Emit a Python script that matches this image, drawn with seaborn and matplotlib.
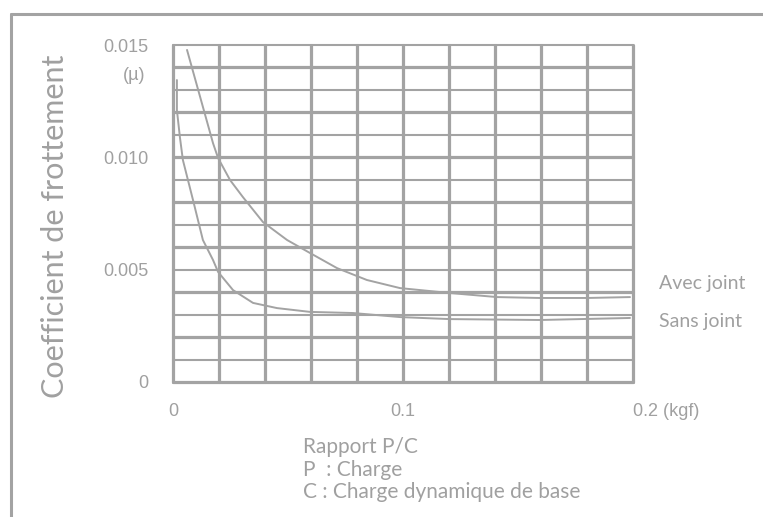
import numpy as np
import pandas as pd
import matplotlib
matplotlib.use("Agg")
import matplotlib.pyplot as plt
from matplotlib.lines import Line2D
import seaborn as sns

# ---- data ----
avec_x = [0.0061, 0.0174, 0.0196, 0.0248, 0.0304, 0.0391, 0.0496, 0.0596, 0.0713,
          0.0843, 0.0987, 0.1204, 0.1409, 0.1596, 0.1800, 0.1987]
avec_y = [0.01478, 0.01063, 0.00997, 0.00899, 0.00823, 0.00712, 0.00632, 0.00574, 0.00507,
          0.00454, 0.00418, 0.00396, 0.00378, 0.00374, 0.00374, 0.00378]
sans_x = [0.0017, 0.0017, 0.0030, 0.0043, 0.0087, 0.0130, 0.0174, 0.0196, 0.0261,
          0.0348, 0.0452, 0.0596, 0.0783, 0.0987, 0.1204, 0.1596, 0.1987]
sans_y = [0.01344, 0.01210, 0.01090, 0.00988, 0.00810, 0.00632, 0.00543, 0.00490, 0.00409,
          0.00352, 0.00329, 0.00312, 0.00307, 0.00289, 0.00280, 0.00276, 0.00285]
x_ticks = [0.0, 0.1, 0.2]
x_tick_labels = ["0", "0.1", "0.2 (kgf)"]
y_ticks = [0.0, 0.005, 0.010, 0.015]
y_tick_labels = ["0", "0.005", "0.010", "0.015"]
series_labels = ["Avec joint", "Sans joint"]

GRAY = "#a3a3a3"
TXT = "#a0a0a0"

sns.set_style("white")
plt.rcParams["font.family"] = ["Lato", "DejaVu Sans"]

W, H = 763, 517
fig = plt.figure(figsize=(W / 100, H / 100), dpi=100)
fig.patch.set_facecolor("white")

def fx(px):
    return px / W

def fy(py):
    return 1 - py / H

ax = fig.add_axes([fx(173), fy(382), fx(633) - fx(173), fy(45) - fy(382)])
ax.set_xlim(0, 0.2)
ax.set_ylim(0, 0.015)

# grid
for i, v in enumerate(np.arange(0, 0.2001, 0.02)):
    ax.axvline(v, color=GRAY, lw=2.3, zorder=1, clip_on=False)
for i, v in enumerate(np.arange(0, 0.01501, 0.001)):
    ax.axhline(v, color=GRAY, lw=2.3 if i % 2 == 0 else 1.5, zorder=1, clip_on=False)

df_a = pd.DataFrame({"x": avec_x, "y": avec_y})
df_s = pd.DataFrame({"x": sans_x, "y": sans_y})
sns.lineplot(data=df_a, x="x", y="y", ax=ax, color=GRAY, lw=1.4, sort=False,
             estimator=None, zorder=3)
sns.lineplot(data=df_s, x="x", y="y", ax=ax, color=GRAY, lw=1.4, sort=False,
             estimator=None, zorder=3)

for s in ax.spines.values():
    s.set_visible(False)
ax.set_xlabel("")
ax.set_ylabel("")

num_font = dict(family=["Liberation Sans Narrow", "Liberation Sans", "DejaVu Sans"], size=13, color=TXT)
ax.set_xticks(x_ticks)
ax.set_xticklabels(x_tick_labels, **num_font)
ax.set_yticks(y_ticks)
ax.set_yticklabels(y_tick_labels, **num_font)
ax.tick_params(axis="both", length=0)
ax.tick_params(axis="x", pad=15)
ax.tick_params(axis="y", pad=18)
labs = ax.get_xticklabels()
labs[-1].set_horizontalalignment("left")

# "(μ)" under 0.015
fig.text(fx(145), fy(76), "(µ)", ha="right", va="center", **num_font)

# y axis title
fig.text(fx(55), fy(226), "Coefficient de frottement", rotation=90, ha="center",
         va="center", fontsize=22, color=TXT)

# series labels
fig.text(fx(659), fy(284), series_labels[0], ha="left", va="center", fontsize=14,
         color=TXT)
fig.text(fx(659), fy(321), series_labels[1], ha="left", va="center", fontsize=14,
         color=TXT)

# x axis description
for ypx, t in [(447, "Rapport P/C"), (470, "P  : Charge"), (492, "C : Charge dynamique de base")]:
    fig.text(fx(303), fy(ypx), t, ha="left", va="center", fontsize=15, color=TXT)

# outer frame (top and left)
fig.add_artist(Line2D([fx(11), 1.0], [fy(14), fy(14)], color=GRAY, lw=2.2))
fig.add_artist(Line2D([fx(11), fx(11)], [fy(14), 0.0], color=GRAY, lw=2.2))

fig.savefig("out.png", dpi=100, facecolor="white")
